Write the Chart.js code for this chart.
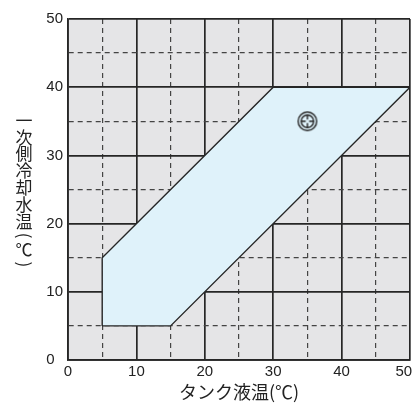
<!DOCTYPE html>
<html><head><meta charset="utf-8">
<script src="https://cdn.jsdelivr.net/npm/chart.js@4/dist/chart.umd.min.js"></script>
<style>html,body{margin:0;padding:0;background:#fff}#wrap{width:413px;height:406px}</style>
</head><body><div id="wrap"><canvas id="c" width="413" height="406"></canvas></div>
<script>
const xTicks = [0,10,20,30,40,50];
const yTicks = [0,10,20,30,40,50];
const polyX = [5,15,50,30,5,5];
const polyY = [5,5,40,40,15,5];
const markX = [35];
const markY = [35];
const xTitle = 'タンク液温(℃)';
const yTitleChars = ['一','次','側','冷','却','水','温','(','℃',')'];

const ink = '#262626';
const font = '"Liberation Sans", Arial, sans-serif';
const cjk = '"Noto Sans CJK JP", sans-serif';

// marker image
const mk = document.createElement('canvas');
mk.width = 24; mk.height = 24;
(function(){
  const g = mk.getContext('2d');
  g.strokeStyle = ink; g.lineWidth = 1.4;
  g.beginPath(); g.arc(12,12,9.3,0,Math.PI*2); g.stroke();
  g.beginPath(); g.arc(12,12,6.2,0,Math.PI*2); g.stroke();
  g.beginPath();
  g.moveTo(12,5.8); g.lineTo(12,10.3);
  g.moveTo(12,13.7); g.lineTo(12,18.2);
  g.moveTo(5.8,12); g.lineTo(10.3,12);
  g.moveTo(13.7,12); g.lineTo(18.2,12);
  g.stroke();
})();

const bgPlugin = {
  id: 'bg',
  beforeDraw(chart){
    const {ctx, chartArea:a} = chart;
    ctx.save(); ctx.fillStyle = '#e5e5e7';
    ctx.fillRect(a.left, a.top, a.right-a.left, a.bottom-a.top);
    ctx.restore();
  },
  afterDraw(chart){
    const ctx = chart.ctx;
    ctx.save();
    ctx.fillStyle = '#222';
    ctx.font = '17px ' + cjk;
    ctx.textAlign = 'center';
    ctx.textBaseline = 'middle';
    let y = 112;
    for (const ch of yTitleChars){
      if (ch === '(' || ch === ')'){
        const h = 12;
        ctx.save();
        ctx.translate(24, y + h/2);
        ctx.rotate(Math.PI/2);
        ctx.fillText(ch, 0, 0);
        ctx.restore();
        y += h;
      } else {
        ctx.fillText(ch, 24, y + 8.3);
        y += 16.8;
      }
    }
    ctx.restore();
  }
};

const gridColor = (c) => {
  const v = c.tick ? c.tick.value : 0;
  return v % 10 === 0 ? ink : '#444';
};
const gridWidth = (c) => {
  const v = c.tick ? c.tick.value : 0;
  return v % 10 === 0 ? 1.7 : 1.2;
};
const gridDash = (c) => {
  if (!c.tick) return [];
  return c.tick.value % 10 === 0 ? [] : [5,4];
};

new Chart(document.getElementById('c'), {
  type: 'scatter',
  data: {
    datasets: [
      {
        data: polyX.map((x,i)=>({x, y: polyY[i]})),
        showLine: true,
        borderColor: ink,
        borderWidth: 1.4,
        backgroundColor: '#dff2fa',
        fill: 'shape',
        pointRadius: 0,
        tension: 0,
        order: 2
      },
      {
        data: markX.map((x,i)=>({x, y: markY[i]})),
        pointStyle: mk,
        pointRadius: 12,
        showLine: false,
        order: 1
      }
    ]
  },
  options: {
    responsive: false,
    animation: false,
    events: [],
    layout: { autoPadding: false, padding: { top: 19, right: 3, left: 0, bottom: 0 } },
    plugins: { legend: { display: false }, tooltip: { enabled: false } },
    scales: {
      x: {
        type: 'linear', min: 0, max: 50,
        afterBuildTicks: (s) => { s.ticks = Array.from({length: 11}, (_,i)=>({value: i*5})); },
        ticks: {
          color: '#222', font: { family: font, size: 15 }, padding: 3, maxRotation: 0, autoSkip: false,
          callback: (v) => xTicks.includes(v) ? (v === 50 ? '50   ' : String(v)) : ''
        },
        grid: { color: gridColor, lineWidth: gridWidth, drawTicks: false },
        border: { display: true, color: ink, width: 1.7, dash: gridDash },
        title: { display: true, text: xTitle, color: '#222', font: { family: cjk, size: 18 }, padding: { top: 0, bottom: 3 } },
        afterFit: (s) => { s.paddingLeft = 0; s.paddingRight = 0; s.height = 46; }
      },
      y: {
        type: 'linear', min: 0, max: 50,
        afterBuildTicks: (s) => { s.ticks = Array.from({length: 11}, (_,i)=>({value: i*5})); },
        ticks: {
          color: '#222', font: { family: font, size: 15 }, padding: 5, autoSkip: false,
          callback: (v) => yTicks.includes(v) ? (v === 0 ? '0  ' : String(v)) : ''
        },
        grid: { color: gridColor, lineWidth: gridWidth, drawTicks: false },
        border: { display: true, color: ink, width: 1.7, dash: gridDash },
        afterFit: (s) => { s.paddingTop = 0; s.paddingBottom = 0; s.width = 68; }
      }
    }
  },
  plugins: [bgPlugin]
});
</script>
</body></html>
